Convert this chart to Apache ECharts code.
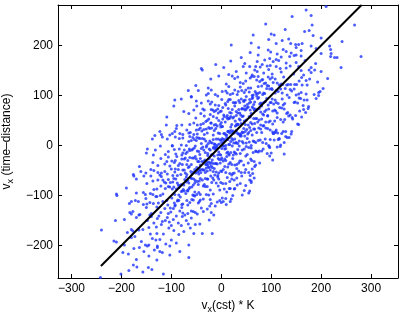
<!DOCTYPE html>
<html><head><meta charset="utf-8">
<script src="https://cdn.jsdelivr.net/npm/echarts@6/dist/echarts.min.js"></script>
<style>html,body{margin:0;padding:0;background:#fff}#c{width:407px;height:314px}</style>
</head><body><div id="c"></div>
<script>
const xRange = [-327, 354];
const yRange = [-265, 281];
const fitLineX = [-241, 281];
const fitLineY = [-241, 281];

// upper tail
const upperTail = [170,271, 210,278, 180,260, 142,258, 89,243, 182,241, 267,241, 167,228, 176,230, 184,220, 64,221, 106,221, 100,223, 128,232, 20,201, 110,204, 242,208, 135,213, 139,204, 149,202, 155,202, 162,204, 122,210, 95,212, 200,215, 60,205,
94,191, 219,192, 217,199, 220,184, 200,184, 190,194, 124,192, 130,188, 99,187, 150,196, 75,196, 160,190, 112,183, 58,186, 140,185, 180,199, 150,181, 74,181,
-11,162, 19,169, 47,164, 227,176, 232,176, 219,178, 280,178, 189,164, 160,179, 146,180, 137,178, 110,172, 115,170, 98,160, 97,174, 104,168, 72,168, 87,171, 130,165, 168,170, 82,162, 40,176, 120,177, 150,166,
-40,154, -38,151, 44,158, 240,156, 180,156, 176,151, 180,146, 187,151, 69,158, 57,158, 67,151, 110,158, 30,148, 85,145, 95,152, 120,147, 130,155, 145,143, 160,150, 15,142, 62,141, 78,157, 102,143, 138,159, 155,158, 200,148, 5,156, 50,145, 118,154, 92,159, 165,141, 72,148];

const sideOutliers = [195,106, 195,100, 172,121, 162,121, 159,94, 166,91, 174,74, 165,72, 153,43, 142,56, 116,14, 104,24, 108,26, 116,13, 119,1, 126,-17, 129,18, 136,16, 140,23, 97,-4, 109,28, 96,-2, 70,-12, 67,-42, 60,-74, 57,-91, 46,-90, 32,-79, 27,-86, 18,-112, 0,-114, 49,-48, -3,-110, -23,-121,
-93,91, -60,98, -26,104, -30,101, -133,20, -120,22, -110,41, -98,24, -90,34, -209,-100, -148,-7, -136,-19];

const coreHigh = [81,131, 131,121, 22,139, 104,126, 177,133, 66,138, 94,137, -21,133, 120,123, 44,124, 151,122, 86,124, 108,133, 10,123, 193,127, 58,135, 139,122, 77,128, 116,121, 33,137, 161,136, 98,133, -5,139, 125,137, 71,131, 89,125, 147,122, 49,129, 213,134, 27,134, 112,125, 83,132, 170,130, 61,138, 102,136, -51,120, 134,122, 38,126, 92,120, 156,129, 74,138, 123,122,
62,100, 101,114, 18,102, 146,113, 83,102, -20,111, 110,110, 56,107, 74,118, 132,101, 34,108, 198,108, 12,105, 97,113, 68,108, 155,103, 46,106, 87,104, -66,110, 119,113, 23,104, 77,106, 141,109, 59,115, 108,105, -12,102, 170,103, 38,117, 85,105, 54,115, 128,114, 2,108, 102,112, 73,104, 150,101, 27,111, 91,114, -46,110, 114,108, 64,101, 186,102, 41,110, 81,119, 15,118, 138,112, 49,111, 122,105, -26,115, 95,119, 70,104, 160,106, 32,102, 204,114, 9,109,
73,94, -80,93, 105,83, 9,81, 63,96, 127,84, 45,88, 94,81, -26,89, 156,95, 24,86, 71,99, 40,93, 114,84, -12,81, 88,88, 59,87, 136,96, 13,88, 77,83, -60,97, 100,86, 50,98, 172,91, 27,85, 67,87, 1,92, 124,81, 35,90, 108,91, -40,85, 81,84, 56,85, 146,86, 18,92, 190,94, -5,80, 62,94, 98,86, 45,90, 153,85, -22,83, 85,86, 8,84, 52,82, 102,93, -7,99, 75,96, 148,87, 37,86, 65,82, -50,89, 91,94, 15,92, 122,93, 57,92, 79,85, -19,87, 164,80, 29,86, 110,86, 48,91,
121,75, -2,68, 62,77, -75,68, 85,61, 35,72, 157,69, 12,60, 52,76, -14,68, 109,69, 20,65, 93,60, -55,71, 66,71, 41,73, 131,64, 3,76, 175,78, -20,72, 47,79, 83,63, 30,60, 138,61, -37,73, 70,70, -7,73, 37,65, 87,68, -22,62, 60,64, 133,66, 22,72, 50,73, -65,64, 76,74, 0,69, 107,71, 42,74, 64,75, -34,71, 149,60, 14,74, 95,73, 33,65, 72,72, -11,70, 117,76, 54,77, -49,79, 81,79, 27,79, 45,73, 103,69, 5,61, 169,66, -17,71, 68,73, 39,61, 126,73, 17,66, 58,71, -95,79, 90,71, -6,65, 48,71, 112,65, 30,68, 79,67, -41,64,
-11,42, 161,57, -34,59, 33,42, 69,54, 16,55, 124,47, -51,55, 56,58, -21,45, 23,55, 73,47, -36,44, 46,49, 119,52, 8,47, 36,53, -79,41, 62,43, -14,41, 93,59, 28,49, 50,51, -48,41, 135,59, 0,46, 81,53, 19,58, 58,57, -25,53, 103,43, 40,44, -63,42, 67,44, 13,53, 31,43, 89,47, -9,55, 155,42, -31,48, 54,41, 25,57, 112,56, 3,53, 44,59, -109,57, 76,51, -20,45, 34,42, 98,49, 16,54, 65,54, -55,45, 127,52, -5,50, 42,58, 11,56, 85,40, -41,42, 59,46, 30,40, 107,49, -16,58, 48,42, -89,40, 71,54, 21,42, 143,53, -2,42, 38,51, -28,50, 95,47, 6,58, 79,41];

const coreMid = [-93,28, 48,28, -28,25, 79,33, 14,28, 36,23, -62,26, 121,24, -14,30, 67,33, 5,24, 44,26, -39,29, 89,35, 26,25, -77,22, 53,23, -1,37, 17,25, 75,35, -23,34, 141,28, -45,32, 40,24, 11,21, 98,31, -11,34, 30,30, -123,28, 62,21, -34,22, 20,30, 84,39, 2,38, 51,32, -69,31, 113,25, -19,35, 28,39, -3,24, 71,26, -55,22, 45,34, 16,29, 93,34, -30,33, 34,23, -103,21, 57,36, 7,24, 129,28, -16,21, 24,29, -42,35, 81,26, -8,39, 65,33, -83,24, 38,21, 13,28, 103,27, -25,36, 124,28, -48,23, 19,37, 55,26, 2,38, 110,31, -65,25, 42,27, -35,32, 9,21, 59,30, -50,31, 32,25, 105,24, -6,25, 22,26,
-16,12, 2,14, 60,0, -38,14, 126,6, -60,10, 25,5, -4,3, 83,6, -26,4, 15,2, -138,13, 47,19, -49,16, 5,7, 69,6, -13,2, 36,9, -84,14, 98,12, -34,13, 13,12, -18,5, 56,7, -70,0, 30,6, 1,6, 78,11, -45,15, 19,8, -118,17, 42,8, -8,1, 114,12, -31,9, 9,0, -57,16, 66,8, -23,9, 50,5, -98,0, 23,11, -2,11, 88,13, -40,4, 132,16, -63,18, 4,12, 40,19, -13,3, 95,0, -80,1, 27,13, -50,10, -6,13, 44,5, -65,8, 17,2, 90,4, -21,6, 7,12, -108,13, 33,4, -43,14, 64,9, -1,11, 21,14, -77,15, 106,11, -29,0, 52,14, -10,13, 29,5, -54,12, 74,10, 11,16, -92,17, 38,19,
22,-1, -98,-1, 84,-7, -48,-11, -1,-19, -32,-14, 42,-9, -84,-7, 16,-19, -13,-7, 64,-14, -59,-9, 5,-1, -132,-9, 28,-15, -22,-9, 100,-15, -45,-12, -5,-13, -71,-16, 52,-18, -37,-3, 36,-1, -112,-18, 9,-6, -16,-5, 74,-13, -54,-5, 118,-2, -77,-15, -10,-5, 26,-13, -27,-16, 81,-11, -94,-8, 13,-13, -64,-7, -20,-19, 30,-17, -79,-19, 3,-1, 76,-11, -35,-9, -7,-19, -122,-1, 19,-14, -57,-7, 50,-2, -15,-3, 7,-7, -91,-17, 92,-16, -43,-18, 38,-16, -24,-7, 15,-17, -68,-13, 60,-5, -3,-18, -106,-12, 24,-19, -30,-3, -12,-4, 46,-7, -52,-1, 112,-3, -74,-9, 11,-15, -18,-18, 69,-11, -40,-6, 1,-6, -150,-15, 33,-8, -63,-10, -9,-2, 55,-4, -27,-20,
-60,-38, -20,-34, -86,-40, 37,-31, -52,-22, 21,-38, -127,-40, -6,-26, -31,-38, 59,-27, -69,-38, 103,-29, -92,-30, -25,-33, 11,-22, -42,-39, 66,-32, -109,-32, -2,-35, -79,-27, -35,-32, 15,-37, -94,-34, -12,-36, 61,-30, -50,-27, -22,-36, -137,-34, 4,-31, -72,-25, 35,-35, -30,-38, -8,-37, -106,-23, 77,-35, -58,-25, 23,-26, -39,-32, 0,-28, -83,-36, 45,-39, -18,-29, -121,-26, 9,-30, -45,-32, -27,-39, 31,-38, -67,-30, 97,-21, -89,-22, -4,-28, -33,-29, 54,-35, -55,-25, -14,-21, -164,-42, 18,-34, -78,-38, -24,-26, 40,-31, -42,-26, 7,-27, -113,-37, 69,-39, -63,-24, -16,-36, -47,-32, 27,-39, -99,-31, 1,-25, -28,-34, 49,-21, -74,-27, -10,-36];

const coreLow = [-123,-59, -16,-52, -93,-53, -49,-44, 1,-52, -108,-57, -26,-43, 47,-54, -64,-42, -36,-49, -151,-55, -10,-53, -86,-48, 21,-59, -44,-50, -22,-49, -120,-55, 63,-56, -72,-55, 9,-54, -53,-48, -14,-46, -97,-60, 31,-46, -32,-54, -135,-50, -5,-55, -59,-57, -41,-54, 17,-56, -81,-58, 62,-47, -103,-41, -18,-44, -47,-53, 40,-54, -69,-58, -28,-51, -176,-58, 4,-48, -92,-47, -38,-48, 26,-55, -56,-53, -7,-60, -127,-54, 55,-54, -77,-49, -30,-45, -61,-52, 13,-43, -113,-52, -13,-59, -42,-48, 35,-51, -88,-60, -24,-44, -161,-52, -1,-51, -51,-55, 58,-60, -74,-49, -34,-49, -100,-47, 23,-56, -66,-44, 7,-42, -141,-48, -20,-41, -45,-57,
49,-80, -86,-79, -5,-67, -67,-70, -28,-67, -111,-75, 17,-72, -46,-78, -149,-76, -19,-74, -73,-68, -55,-67, 3,-76, -95,-66, 60,-71, -117,-69, -32,-66, -61,-65, 26,-69, -83,-80, -42,-66, -170,-67, -10,-75, -106,-68, -52,-70, 12,-64, -70,-63, -21,-61, -141,-61, 41,-61, -91,-67, -44,-71, -75,-79, -1,-74, -127,-69, -27,-67, -56,-79, 21,-67, -102,-74, -38,-69, -175,-61, -15,-69, -65,-75, 57,-69, -88,-75, -48,-72, -114,-73, 9,-76, -80,-78, -7,-63, -155,-61, -34,-78, -59,-66, 31,-65, -97,-73, 66,-65, -120,-62, -53,-75, -17,-65, -70,-73, 38,-76, -137,-71,
-76,-88, 11,-93, -98,-87, -57,-99, -210,-97, -25,-99, -121,-81, -67,-91, -3,-89, -85,-99, -36,-81, -156,-94, 26,-87, -106,-82, -59,-83, -90,-87, -16,-97, -142,-96, -42,-98, -71,-96, 6,-87, -117,-97, -53,-93, -190,-85, -30,-98, -80,-92, 42,-99, -103,-83, -63,-84, -129,-87, -6,-81, -95,-83, -22,-89, -170,-95, -49,-98, -74,-91, 16,-86, -112,-86, 55,-95, -135,-88, -68,-90, -32,-82, -85,-84, 23,-100, -152,-98, -45,-94, -122,-100, -78,-91, -28,-82, -137,-98, -55,-100, 18,-86, -93,-98, -65,-87,
-156,-118, -56,-109, -85,-110, -8,-113, -131,-102, -67,-119, -180,-112, -44,-112, -94,-115, 20,-107, -117,-112, -77,-117, -143,-114, -20,-116, -109,-110, -36,-107, -184,-116, -63,-114, -88,-111, 2,-105, -126,-115, 10,-118, -149,-117, -82,-103, -46,-115, -99,-105, 9,-106, -166,-112, -59,-108, -136,-116, -92,-119, -42,-109, -151,-106, -69,-110, 4,-112, -107,-119, -79,-118, -172,-110, -53,-101, -129,-102, -22,-108, -87,-109,
-77,-135, -102,-125, -12,-121, -140,-136, -20,-134, -163,-138, -96,-126, -60,-131, -113,-126, -28,-127, -180,-137, -73,-139, -150,-124, -106,-136, -56,-132, -165,-139, -83,-131, -40,-125, -121,-134, -93,-121, -183,-134, -67,-136, -143,-139, -36,-132, -101,-133, -79,-124, -177,-132, -48,-137, -129,-123, -52,-134];

const lowerTail = [-140,-142, -128,-146, -118,-152, -108,-144, -96,-148, -86,-155, -78,-142, -70,-150, -60,-145, -52,-158, -120,-158, -135,-155, -100,-160, -90,-141, -112,-150, -66,-157, -148,-150, -80,-160, -125,-141, -104,-153, -194,-148, -212,-150, -170,-144, -24,-149, -43,-157, -15,-139,
-142,-177, -116,-177, -55,-176, -38,-176, -18,-176, -62,-165, -180,-168, -177,-171, -165,-169, -157,-168, -188,-174, -129,-176, -95,-170, -105,-165, -75,-172, -130,-163, -145,-164, -85,-178, -240,-169,
-215,-191, -210,-193, -180,-184, -173,-182, -194,-199, -152,-199, -145,-199, -131,-189, -100,-189, -111,-197, -65,-199, -123,-188, -138,-186, -160,-192, -90,-195,
-175,-206, -164,-204, -148,-201, -128,-201, -197,-214, -186,-217, -123,-212, -118,-214, -103,-219, -83,-212, -128,-204, -103,-201, -134,-209, -155,-212,
-170,-228, -145,-221, -176,-239, -65,-224, -129,-229,
-169,-243, -185,-250, -146,-244, -201,-257, -157,-253, -242,-264, -139,-248, -116,-257];

function pairs(flat) { const out = []; for (let i = 0; i < flat.length; i += 2) out.push([flat[i], flat[i + 1]]); return out; }
const points = [].concat(pairs(upperTail), pairs(sideOutliers), pairs(coreHigh), pairs(coreMid), pairs(coreLow), pairs(lowerTail));

const font = '"Liberation Sans", Arial, Helvetica, sans-serif';
const minusFmt = v => (v < 0 ? '\u2212' + Math.abs(v) : String(v));
const rich = {
  v: { fontSize: 12, fontFamily: font, color: '#000' },
  s: { fontSize: 9, fontFamily: font, color: '#000', padding: [7, 0, 0, 0] },
  t: { fontSize: 12, fontFamily: font, color: '#000' }
};
const axisBase = {
  type: 'value',
  axisLine: { onZero: false, lineStyle: { color: '#000', width: 1 } },
  axisTick: { inside: true, length: 4, lineStyle: { color: '#000', width: 1 } },
  splitLine: { show: false },
  axisLabel: { color: '#000', fontSize: 12, fontFamily: font, showMinLabel: false, showMaxLabel: false, formatter: minusFmt }
};

const chart = echarts.init(document.getElementById('c'), null, { renderer: 'canvas' });
chart.setOption({
  animation: false,
  backgroundColor: '#fff',
  grid: { left: 58, top: 5, width: 340, height: 273, containLabel: false, outerBoundsMode: 'none' },
  xAxis: [
    Object.assign({}, axisBase, {
      min: xRange[0], max: xRange[1], position: 'bottom',
      axisLabel: Object.assign({}, axisBase.axisLabel, { margin: 5 }),
      name: '{v|v}{s|x}{t|(cst) * K}', nameLocation: 'middle', nameGap: 12,
      nameTextStyle: { rich: rich }
    }),
    Object.assign({}, axisBase, {
      min: xRange[0], max: xRange[1], position: 'top',
      axisLabel: { show: false }
    })
  ],
  yAxis: [
    Object.assign({}, axisBase, {
      min: yRange[0], max: yRange[1], position: 'left',
      axisLabel: Object.assign({}, axisBase.axisLabel, { margin: 5 }),
      name: '{v|v}{s|x}{t| (time\u2013distance)}', nameLocation: 'middle', nameGap: 38,
      nameTextStyle: { rich: rich }
    }),
    Object.assign({}, axisBase, {
      min: yRange[0], max: yRange[1], position: 'right',
      axisLabel: { show: false }
    })
  ],
  series: [
    { type: 'scatter', data: points, symbol: 'circle', symbolSize: 3, silent: true, clip: true,
      itemStyle: { color: '#1f35ff' } },
    { type: 'line', data: [[fitLineX[0], fitLineY[0]], [fitLineX[1], fitLineY[1]]], symbol: 'none', silent: true, clip: true,
      lineStyle: { color: '#000', width: 2 } }
  ]
});
</script></body></html>
